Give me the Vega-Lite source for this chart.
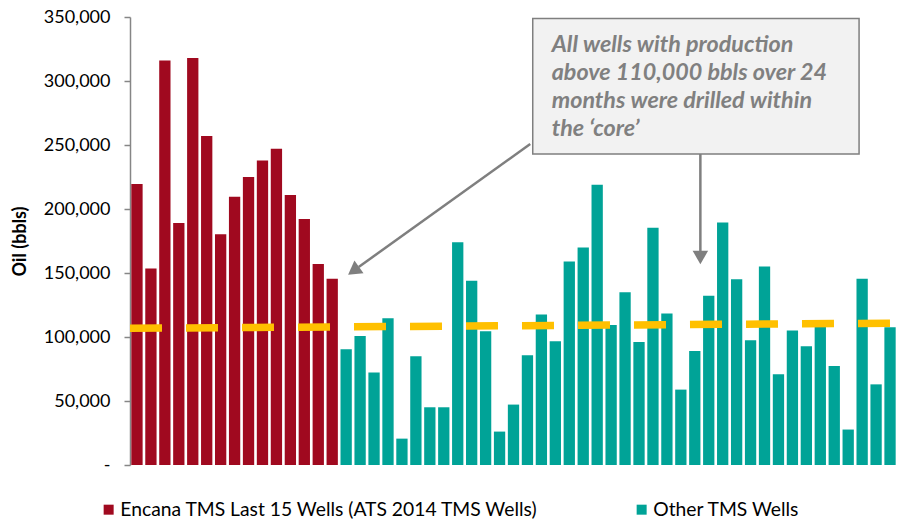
{
  "$schema": "https://vega.github.io/schema/vega-lite/v6.json",
  "width": 767,
  "height": 448,
  "autosize": {"type": "none"},
  "padding": {"left": 130, "top": 17, "right": 0, "bottom": 56},
  "background": "white",
  "config": {"view": {"stroke": null}, "font": "Lato"},
  "datasets": {
    "wells": [
      {"well": 1, "oil": 219500, "group": "Encana TMS Last 15 Wells (ATS 2014 TMS Wells)"},
      {"well": 2, "oil": 153600, "group": "Encana TMS Last 15 Wells (ATS 2014 TMS Wells)"},
      {"well": 3, "oil": 316100, "group": "Encana TMS Last 15 Wells (ATS 2014 TMS Wells)"},
      {"well": 4, "oil": 189000, "group": "Encana TMS Last 15 Wells (ATS 2014 TMS Wells)"},
      {"well": 5, "oil": 318000, "group": "Encana TMS Last 15 Wells (ATS 2014 TMS Wells)"},
      {"well": 6, "oil": 257000, "group": "Encana TMS Last 15 Wells (ATS 2014 TMS Wells)"},
      {"well": 7, "oil": 180200, "group": "Encana TMS Last 15 Wells (ATS 2014 TMS Wells)"},
      {"well": 8, "oil": 209600, "group": "Encana TMS Last 15 Wells (ATS 2014 TMS Wells)"},
      {"well": 9, "oil": 225000, "group": "Encana TMS Last 15 Wells (ATS 2014 TMS Wells)"},
      {"well": 10, "oil": 237800, "group": "Encana TMS Last 15 Wells (ATS 2014 TMS Wells)"},
      {"well": 11, "oil": 247100, "group": "Encana TMS Last 15 Wells (ATS 2014 TMS Wells)"},
      {"well": 12, "oil": 211000, "group": "Encana TMS Last 15 Wells (ATS 2014 TMS Wells)"},
      {"well": 13, "oil": 192200, "group": "Encana TMS Last 15 Wells (ATS 2014 TMS Wells)"},
      {"well": 14, "oil": 157000, "group": "Encana TMS Last 15 Wells (ATS 2014 TMS Wells)"},
      {"well": 15, "oil": 145600, "group": "Encana TMS Last 15 Wells (ATS 2014 TMS Wells)"},
      {"well": 16, "oil": 90400, "group": "Other TMS Wells"},
      {"well": 17, "oil": 100800, "group": "Other TMS Wells"},
      {"well": 18, "oil": 72200, "group": "Other TMS Wells"},
      {"well": 19, "oil": 114600, "group": "Other TMS Wells"},
      {"well": 20, "oil": 20600, "group": "Other TMS Wells"},
      {"well": 21, "oil": 84900, "group": "Other TMS Wells"},
      {"well": 22, "oil": 45100, "group": "Other TMS Wells"},
      {"well": 23, "oil": 45100, "group": "Other TMS Wells"},
      {"well": 24, "oil": 174000, "group": "Other TMS Wells"},
      {"well": 25, "oil": 144000, "group": "Other TMS Wells"},
      {"well": 26, "oil": 104500, "group": "Other TMS Wells"},
      {"well": 27, "oil": 26100, "group": "Other TMS Wells"},
      {"well": 28, "oil": 47200, "group": "Other TMS Wells"},
      {"well": 29, "oil": 85700, "group": "Other TMS Wells"},
      {"well": 30, "oil": 117500, "group": "Other TMS Wells"},
      {"well": 31, "oil": 96600, "group": "Other TMS Wells"},
      {"well": 32, "oil": 158900, "group": "Other TMS Wells"},
      {"well": 33, "oil": 170000, "group": "Other TMS Wells"},
      {"well": 34, "oil": 219000, "group": "Other TMS Wells"},
      {"well": 35, "oil": 109400, "group": "Other TMS Wells"},
      {"well": 36, "oil": 134900, "group": "Other TMS Wells"},
      {"well": 37, "oil": 96100, "group": "Other TMS Wells"},
      {"well": 38, "oil": 185400, "group": "Other TMS Wells"},
      {"well": 39, "oil": 118300, "group": "Other TMS Wells"},
      {"well": 40, "oil": 58900, "group": "Other TMS Wells"},
      {"well": 41, "oil": 89100, "group": "Other TMS Wells"},
      {"well": 42, "oil": 132300, "group": "Other TMS Wells"},
      {"well": 43, "oil": 189400, "group": "Other TMS Wells"},
      {"well": 44, "oil": 145100, "group": "Other TMS Wells"},
      {"well": 45, "oil": 97400, "group": "Other TMS Wells"},
      {"well": 46, "oil": 155000, "group": "Other TMS Wells"},
      {"well": 47, "oil": 70900, "group": "Other TMS Wells"},
      {"well": 48, "oil": 105000, "group": "Other TMS Wells"},
      {"well": 49, "oil": 92700, "group": "Other TMS Wells"},
      {"well": 50, "oil": 107800, "group": "Other TMS Wells"},
      {"well": 51, "oil": 77300, "group": "Other TMS Wells"},
      {"well": 52, "oil": 27700, "group": "Other TMS Wells"},
      {"well": 53, "oil": 145600, "group": "Other TMS Wells"},
      {"well": 54, "oil": 63000, "group": "Other TMS Wells"},
      {"well": 55, "oil": 107600, "group": "Other TMS Wells"}
    ],
    "trend": [
      {"well": 0.5, "avg": 106800},
      {"well": 55.5, "avg": 110800}
    ]
  },
  "layer": [
    {
      "data": {"name": "wells"},
      "mark": {"type": "bar", "width": 11.3},
      "encoding": {
        "x": {"field": "well", "type": "quantitative", "scale": {"domain": [0.5, 55.5], "nice": false, "zero": false, "padding": 0}, "axis": null},
        "y": {
          "field": "oil", "type": "quantitative",
          "scale": {"domain": [0, 350000], "nice": false},
          "axis": {
            "title": "Oil (bbls)",
            "values": [0, 50000, 100000, 150000, 200000, 250000, 300000, 350000],
            "labelExpr": "datum.value == 0 ? '-' : format(datum.value, ',')",
            "grid": false,
            "domainColor": "#868686", "domainWidth": 1.5,
            "tickColor": "#868686", "tickWidth": 1.5, "tickSize": 6,
            "labelFont": "Lato", "labelFontSize": 18, "labelColor": "#000000", "labelPadding": 14,
            "titleFont": "Lato", "titleFontSize": 18, "titleFontWeight": "bold", "titleColor": "#000000", "titlePadding": 14
          }
        },
        "color": {
          "field": "group", "type": "nominal",
          "scale": {"domain": ["Encana TMS Last 15 Wells (ATS 2014 TMS Wells)", "Other TMS Wells"], "range": ["#A0091F", "#00A397"]},
          "legend": {
            "orient": "none", "legendX": -31, "legendY": 483,
            "direction": "horizontal", "title": null, "padding": 0,
            "symbolType": "square", "symbolSize": 100, "symbolStrokeWidth": 0,
            "labelFont": "Lato", "labelFontSize": 19.3, "labelColor": "#000000",
            "labelOffset": 2, "columnPadding": 93, "labelLimit": 700
          }
        }
      }
    },
    {
      "data": {"name": "trend"},
      "mark": {"type": "line", "color": "#FFC000", "strokeWidth": 7.5, "strokeDash": [32, 24], "strokeCap": "butt"},
      "encoding": {
        "x": {"field": "well", "type": "quantitative"},
        "y": {"field": "avg", "type": "quantitative"}
      }
    },
    {
      "data": {"values": [{}]},
      "mark": {"type": "rule", "color": "#7F7F7F", "strokeWidth": 2.5},
      "encoding": {
        "x": {"datum": 29.2}, "y": {"datum": 250800},
        "x2": {"datum": 16.9}, "y2": {"datum": 154700}
      }
    },
    {
      "data": {"values": [{}]},
      "mark": {"type": "rule", "color": "#7F7F7F", "strokeWidth": 2.5},
      "encoding": {
        "x": {"datum": 41.4}, "y": {"datum": 243000},
        "x2": {"datum": 41.4}, "y2": {"datum": 167200}
      }
    },
    {
      "data": {"values": [{}]},
      "mark": {"type": "point", "shape": "triangle-up", "filled": true, "color": "#7F7F7F", "opacity": 1, "size": 240, "angle": 234},
      "encoding": {"x": {"datum": 16.53}, "y": {"datum": 151700}}
    },
    {
      "data": {"values": [{}]},
      "mark": {"type": "point", "shape": "triangle-down", "filled": true, "color": "#7F7F7F", "opacity": 1, "size": 240},
      "encoding": {"x": {"datum": 41.4}, "y": {"datum": 162100}}
    },
    {
      "data": {"values": [{}]},
      "mark": {"type": "rect", "fill": "#F2F2F2", "stroke": "#7F7F7F", "strokeWidth": 1.5},
      "encoding": {
        "x": {"datum": 29.38}, "x2": {"datum": 52.78},
        "y": {"datum": 348900}, "y2": {"datum": 243000}
      }
    },
    {
      "data": {"values": [{}]},
      "mark": {
        "type": "text", "align": "left", "baseline": "alphabetic",
        "font": "Lato", "fontSize": 23.3, "fontWeight": "bold", "fontStyle": "italic",
        "color": "#808080", "lineHeight": 28,
        "text": ["All wells with production", "above 110,000 bbls over 24", "months were drilled within", "the ‘core’"]
      },
      "encoding": {"x": {"datum": 30.74}, "y": {"datum": 322900}}
    }
  ]
}
